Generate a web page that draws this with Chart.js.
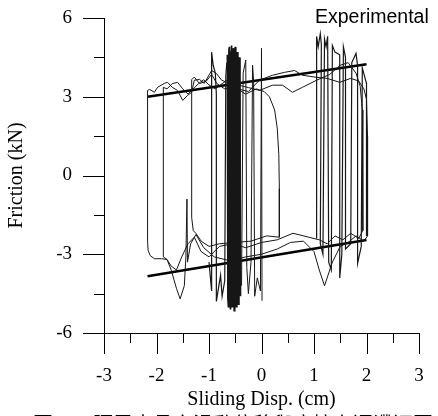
<!DOCTYPE html>
<html>
<head>
<meta charset="utf-8">
<script src="https://cdn.jsdelivr.net/npm/chart.js@4.4.1/dist/chart.umd.min.js"></script>
<style>
  html, body { margin: 0; padding: 0; background: #fff; overflow: hidden; }
  #wrap { position: relative; width: 438px; height: 416px; overflow: hidden; }
  #legendText { position: absolute; left: 315px; top: 7px; font: 19.5px "Liberation Sans", Arial, sans-serif; color: #000; line-height: 1; }
  #caption { position: absolute; left: 33px; top: 414px; font: 20px "Noto Sans CJK TC", sans-serif; color: #000; line-height: 1; white-space: nowrap; }
</style>
</head>
<body>
<div id="wrap">
  <canvas id="chartFriction" width="438" height="416"></canvas>
  <div id="legendText">Experimental</div>
  <div id="caption">圖　　隔震支承之滑動位移與摩擦力遲滯迴圈</div>
</div>
<script>
// tick positions
const xMajorTicks = [-3, -2, -1, 0, 1, 2, 3];
const xMinorTicks = [-2.5, -1.5, -0.5, 0.5, 1.5, 2.5];
const yMajorTicks = [-6, -3, 0, 3, 6];
const yMinorTicks = [-4.5, -1.5, 1.5, 4.5];

// fitted friction lines (disp cm, force kN)
const fitUpper = [[-2.17, 3.0], [2.0, 4.24]];
const fitLower = [[-2.17, -3.84], [2.0, -2.46]];

// experimental hysteresis
const outerLoop = [
  [-2.17, -2.5], [-2.17, 3.24], [-2.13, 3.28], [-2.04, 3.17], [-1.98, 3.36], [-1.85, 3.51],
  [-1.79, 3.55], [-1.7, 3.36], [-1.6, 3.24], [-1.5, 2.86], [-1.41, 3.05], [-1.33, 3.17],
  [-1.28, 3.63], [-1.18, 3.66], [-1.09, 3.51], [-0.95, 4.0], [-0.86, 3.89], [-0.76, 3.63],
  [-0.61, 3.51], [-0.45, 3.3], [-0.25, 3.2], [-0.04, 3.63], [0.21, 3.82], [0.44, 3.93],
  [0.63, 4.0], [0.78, 3.82], [1.05, 3.74], [1.25, 3.7], [1.49, 3.55], [1.7, 3.7], [1.85, 3.6],
  [1.95, 3.3], [2.0, 2.9], [2.02, 1.5], [2.02, -2.3], [1.95, -2.5], [1.8, -2.3], [1.65, -2.55],
  [1.5, -2.7], [1.35, -3.3], [1.2, -4.2], [1.1, -3.6], [1.0, -2.9], [0.8, -2.5], [0.55, -2.55],
  [0.3, -2.8], [0.0, -3.0], [-0.3, -3.1], [-0.6, -3.25], [-0.9, -3.1], [-1.1, -2.75],
  [-1.25, -2.25], [-1.35, -2.6], [-1.41, -3.3], [-1.42, -0.9], [-1.44, -3.1], [-1.47, -4.2],
  [-1.55, -4.7], [-1.62, -4.3], [-1.72, -3.6], [-1.8, -3.2], [-1.9, -3.17], [-2.04, -3.17],
  [-2.12, -3.05], [-2.16, -2.85], [-2.17, -2.5]
];
const secondLoop = [
  [-1.87, -3.1], [-1.87, 3.36], [-1.8, 3.3], [-1.7, 3.5], [-1.6, 3.55], [-1.5, 3.3], [-1.4, 3.1],
  [-1.3, 3.3], [-1.2, 3.5], [-1.1, 3.65], [-1.0, 3.45], [-0.88, 3.3], [-0.75, 3.5], [-0.6, 3.7],
  [-0.45, 3.45], [-0.25, 3.35], [-0.04, 3.24], [0.21, 3.44], [0.4, 3.44], [0.59, 3.17],
  [0.78, 3.36], [1.05, 3.63], [1.3, 3.85], [1.5, 4.2], [1.65, 4.3], [1.8, 3.9], [1.88, 3.4],
  [1.92, 2.5], [1.93, -2.1], [1.85, -2.4], [1.7, -2.2], [1.55, -2.45], [1.4, -2.3], [1.25, -2.6],
  [1.1, -2.45], [0.9, -2.35], [0.6, -2.2], [0.3, -2.45], [0.0, -2.55], [-0.3, -2.75],
  [-0.55, -2.6], [-0.8, -2.7], [-1.0, -3.1], [-1.15, -2.9], [-1.28, -2.35], [-1.4, -2.6],
  [-1.52, -3.1], [-1.62, -3.6], [-1.72, -3.45], [-1.8, -3.2], [-1.87, -3.1]
];
const thirdLoop = [
  [0.34, -2.35], [0.1, -2.3], [-0.2, -2.5], [-0.5, -2.55], [-0.8, -2.6], [-1.0, -2.7],
  [-1.15, -2.5], [-1.25, -2.2], [-1.3, -2.1], [-1.33, -1.6], [-1.33, 3.65], [-1.28, 3.75],
  [-1.18, 3.5], [-1.05, 3.6], [-0.95, 3.85], [-0.85, 3.5], [-0.7, 3.3], [-0.5, 3.35],
  [-0.3, 3.1], [-0.1, 3.3], [0.05, 3.2], [0.15, 3.0], [0.25, 2.5], [0.3, 1.8], [0.33, 0.8],
  [0.34, -0.5], [0.34, -2.35]
];
const middleStrokes = [
  [-1.0, -3.3], [-0.95, -4.4], [-0.95, 4.7], [-0.92, 4.2], [-0.88, 3.9], [-0.86, 3.1],
  [-0.86, -4.8], [-0.82, -4.3], [-0.78, -3.8], [-0.75, -4.6], [-0.7, -4.0], [-0.68, 3.8],
  [-0.66, 4.3]
];
const denseBand = [
  [-0.65, 4.6], [-0.64, -4.7], [-0.63, -5.0], [-0.62, 4.8], [-0.61, 4.9], [-0.6, -4.9],
  [-0.59, -5.1], [-0.58, 4.7], [-0.57, 4.95], [-0.56, -5.0], [-0.55, -4.8], [-0.54, 4.85],
  [-0.53, 4.6], [-0.52, -5.15], [-0.51, -4.9], [-0.5, 4.9], [-0.49, 4.4], [-0.48, -5.0],
  [-0.47, -4.6], [-0.46, 4.7], [-0.45, 4.3], [-0.44, -4.9], [-0.43, -4.4], [-0.42, 4.5],
  [-0.41, 3.8], [-0.4, -4.6]
];
const centreStrokes = [
  [-0.38, -4.2], [-0.35, 3.9], [-0.3, 4.4], [-0.28, -3.5], [-0.25, -4.5], [-0.2, -3.3],
  [-0.17, 4.2], [-0.15, 3.6], [-0.13, -4.6], [-0.08, -3.9], [-0.02, -4.4], [0.0, 4.85],
  [0.01, -4.77]
];
const rightCluster = [
  [1.05, -2.4], [1.05, 5.3], [1.08, 4.9], [1.12, 5.4], [1.14, 5.0], [1.12, -2.6], [1.17, -3.0],
  [1.2, 5.2], [1.23, 4.9], [1.26, 5.3], [1.28, -3.3], [1.33, -3.6], [1.35, 4.95], [1.4, 4.7],
  [1.49, 4.6], [1.49, -3.9], [1.53, -3.0], [1.56, 4.9], [1.6, 4.5], [1.6, -2.8], [1.7, -2.6],
  [1.72, 4.3], [1.8, 4.65], [1.83, 4.2], [1.83, -3.35], [1.9, -2.7], [1.92, 4.1], [2.0, 3.5],
  [2.0, -2.3]
];

const toPoints = (pairs) => pairs.map(([x, y]) => ({ x, y }));

const thinLine = (pairs, width = 1) => ({
  data: toPoints(pairs),
  showLine: true,
  borderColor: "#161616",
  borderWidth: width,
  pointRadius: 0,
  tension: 0,
});
const thickLine = (pairs) => ({
  data: toPoints(pairs),
  showLine: true,
  borderColor: "#000",
  borderWidth: 2.5,
  pointRadius: 0,
  tension: 0,
});

// outward tick marks, long on major values, short on minor ones
const tickMarks = {
  id: "tickMarks",
  afterDraw(chart) {
    const { ctx, chartArea, scales } = chart;
    ctx.save();
    ctx.strokeStyle = "#000";
    ctx.lineWidth = 1;
    ctx.beginPath();
    const xTick = (v, len) => {
      const px = Math.round(scales.x.getPixelForValue(v)) + 0.5;
      ctx.moveTo(px, chartArea.bottom);
      ctx.lineTo(px, chartArea.bottom + len);
    };
    const yTick = (v, len) => {
      const py = Math.round(scales.y.getPixelForValue(v)) + 0.5;
      ctx.moveTo(chartArea.left, py);
      ctx.lineTo(chartArea.left - len, py);
    };
    xMajorTicks.forEach((v) => xTick(v, 21));
    xMinorTicks.forEach((v) => xTick(v, 10));
    yMajorTicks.forEach((v) => yTick(v, 21));
    yMinorTicks.forEach((v) => yTick(v, 10));
    ctx.stroke();
    ctx.restore();
  },
};

const serif = "'Liberation Serif', 'Times New Roman', serif";

// pin the axis boxes so the plot area sits where the reference has it
const fixBox = (w, h) => (scale) => {
  if (w) scale.width = w;
  if (h) scale.height = h;
  scale.paddingTop = 0;
  scale.paddingBottom = 0;
  scale.paddingLeft = 0;
  scale.paddingRight = 0;
};

new Chart(document.querySelector("#chartFriction"), {
  type: "scatter",
  data: {
    datasets: [
      thinLine(outerLoop),
      thinLine(secondLoop),
      thinLine(thirdLoop),
      thinLine(middleStrokes, 1.2),
      thinLine(denseBand, 1.7),
      thinLine(centreStrokes),
      thinLine(rightCluster, 1.2),
      thickLine(fitUpper),
      thickLine(fitLower),
    ],
  },
  options: {
    responsive: false,
    animation: false,
    layout: { padding: { top: 18, right: 19, left: 0, bottom: 0 } },
    plugins: { legend: { display: false }, tooltip: { enabled: false } },
    scales: {
      x: {
        type: "linear",
        min: -3,
        max: 3,
        afterFit: fixBox(0, 83),
        afterBuildTicks: (scale) => { scale.ticks = xMajorTicks.map((v) => ({ value: v })); },
        grid: { display: false, drawTicks: false },
        border: { display: true, color: "#000", width: 1 },
        ticks: { color: "#000", font: { family: serif, size: 19 }, padding: 32, maxRotation: 0 },
        title: { display: true, text: "Sliding Disp. (cm)", color: "#000", font: { family: serif, size: 20 }, padding: { bottom: 4 } },
      },
      y: {
        type: "linear",
        min: -6,
        max: 6,
        afterFit: fixBox(104, 0),
        afterBuildTicks: (scale) => { scale.ticks = yMajorTicks.map((v) => ({ value: v })); },
        grid: { display: false, drawTicks: false },
        border: { display: true, color: "#000", width: 1 },
        ticks: { color: "#000", font: { family: serif, size: 19 }, padding: 32 },
        title: { display: true, text: "Friction (kN)", color: "#000", font: { family: serif, size: 20 }, padding: { top: 5 } },
      },
    },
  },
  plugins: [tickMarks],
});
</script>
</body>
</html>
